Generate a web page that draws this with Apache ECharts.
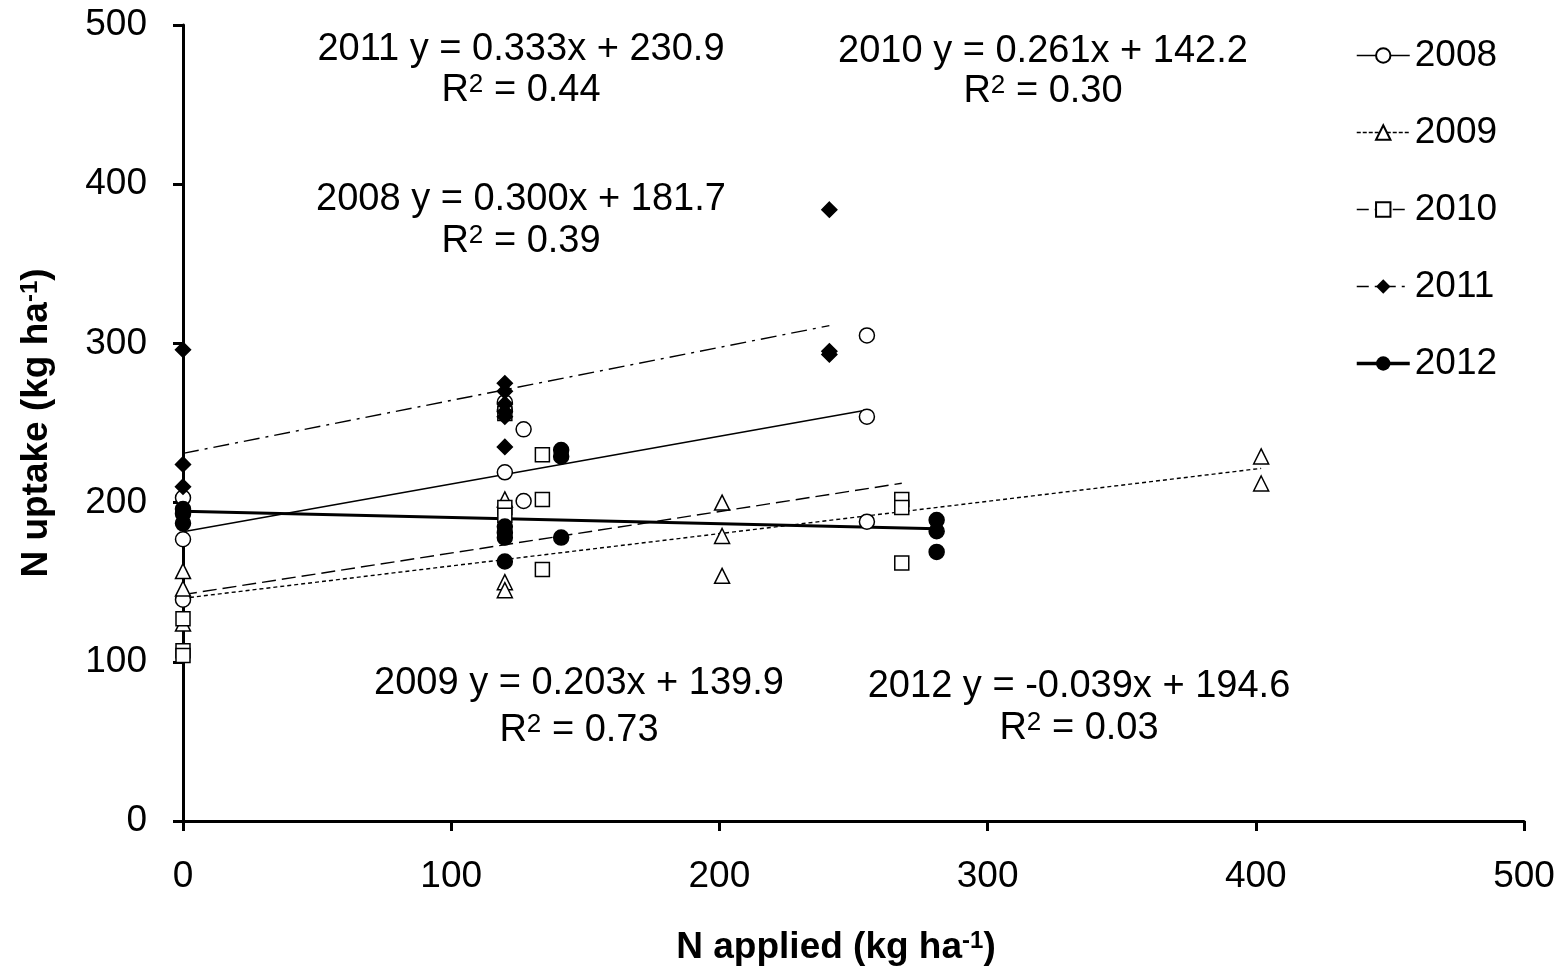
<!DOCTYPE html>
<html>
<head>
<meta charset="utf-8">
<script src="https://cdn.jsdelivr.net/npm/echarts@6/dist/echarts.min.js"></script>
<style>html,body{margin:0;padding:0;background:#fff;}#c{width:1565px;height:971px;}</style>
</head>
<body>
<div id="c"></div>
<script>
// ---- data ----
const years = ['2008', '2009', '2010', '2011', '2012'];

const nApplied2008 = [0, 0, 0, 120, 120, 120, 127, 127, 255, 255, 255];
const nUptake2008  = [203, 177, 139, 263, 258, 219, 246, 201, 305, 254, 188];

const nApplied2009 = [0, 0, 0, 120, 120, 120, 201, 201, 201, 402, 402];
const nUptake2009  = [157, 146, 124, 202, 150, 145, 200, 179, 154, 229, 212];

const nApplied2010 = [0, 0, 0, 120, 120, 120, 134, 134, 134, 268, 268, 268];
const nUptake2010  = [127, 107, 104, 256, 197, 192, 230, 202, 158, 202, 197, 162];

const nApplied2011 = [0, 0, 0, 120, 120, 120, 120, 120, 120, 241, 241, 241];
const nUptake2011  = [296, 224, 210, 275, 270, 262, 257, 254, 235, 384, 295, 293];

const nApplied2012 = [0, 0, 0, 120, 120, 120, 120, 141, 141, 141, 281, 281, 281];
const nUptake2012  = [196, 193, 187, 185, 181, 178, 163, 233, 229, 178, 189, 182, 169];

// regression equations shown on the chart
const slopes     = [0.300, 0.203, 0.261, 0.333, -0.039];
const intercepts = [181.7, 139.9, 142.2, 230.9, 194.6];
const r2Values   = ['0.39', '0.73', '0.30', '0.44', '0.03'];
const trendStart = [0, 0, 0, 0, 0];
const trendEnd   = [255, 402, 268, 241, 281];

const xTicks = [0, 100, 200, 300, 400, 500];
const yTicks = [0, 100, 200, 300, 400, 500];

// ---- styling ----
const xs = [nApplied2008, nApplied2009, nApplied2010, nApplied2011, nApplied2012];
const ys = [nUptake2008, nUptake2009, nUptake2010, nUptake2011, nUptake2012];
const scatterSymbol = ['circle', 'triangle', 'rect', 'diamond', 'circle'];
const scatterFill = ['#fff', '#fff', '#fff', '#000', '#000'];
const scatterSize = [15, 15, 14, 15, 15];
const legendSymbol = ['emptyCircle', 'emptyTriangle', 'emptyRect', 'diamond', 'circle'];
const lineType = ['solid', [4, 3], [14, 6], [16, 6, 3, 6], 'solid'];
const lineWidth = [1.5, 1.4, 1.4, 1.4, 3];
const legendLineType = ['solid', [4, 2], [12, 6], [12, 6, 3, 6], 'solid'];

const FONT = '"Liberation Sans", Arial, sans-serif';

const series = [];
years.forEach((y, i) => {
  series.push({
    name: y,
    type: 'line',
    data: [
      [trendStart[i], intercepts[i] + slopes[i] * trendStart[i]],
      [trendEnd[i], intercepts[i] + slopes[i] * trendEnd[i]]
    ],
    symbol: legendSymbol[i],
    showSymbol: false,
    lineStyle: { color: '#000', width: lineWidth[i], type: lineType[i] },
    itemStyle: { color: '#000' },
    silent: true,
    z: 2
  });
});
years.forEach((y, i) => {
  series.push({
    name: y,
    type: 'scatter',
    data: xs[i].map((x, k) => [x, ys[i][k]]),
    symbol: scatterSymbol[i],
    symbolSize: scatterSize[i],
    itemStyle: { color: scatterFill[i], borderColor: '#000', borderWidth: 1.5, opacity: 1 },
    z: 3
  });
});

const supRich = {
  s: { fontSize: 26, fontFamily: FONT, verticalAlign: 'top', fill: '#000' }
};

function eqLabel(i, cx, cy) {
  const sign = intercepts[i] >= 0 ? '+' : '-';
  const slopeTxt = slopes[i].toFixed(3);
  return [
    {
      type: 'text', x: cx, y: cy[0],
      style: {
        text: years[i] + ' y = ' + slopeTxt + 'x ' + sign + ' ' + Math.abs(intercepts[i]).toFixed(1),
        font: '38px ' + FONT, fill: '#000', align: 'center', verticalAlign: 'middle'
      }
    },
    {
      type: 'text', x: cx, y: cy[1],
      style: {
        text: 'R{s|2} = ' + r2Values[i],
        fontSize: 38, fontFamily: FONT,
        fill: '#000', align: 'center', verticalAlign: 'middle',
        rich: supRich
      }
    }
  ];
}

const graphics = [].concat(
  eqLabel(3, 521, [50, 91]),
  eqLabel(2, 1043, [52, 92]),
  eqLabel(0, 521, [200, 242]),
  eqLabel(1, 579, [684, 731]),
  eqLabel(4, 1079, [687, 729])
);

const titleRich = {
  t: { fontSize: 37, fontWeight: 'bold', fontFamily: FONT, color: '#000' },
  s: { fontSize: 24, fontWeight: 'bold', fontFamily: FONT, color: '#000', verticalAlign: 'top' }
};

const chart = echarts.init(document.getElementById('c'), null, { renderer: 'canvas' });
chart.setOption({
  animation: false,
  backgroundColor: '#fff',
  grid: { left: 183, right: 41, top: 25, bottom: 149, containLabel: false },
  xAxis: {
    type: 'value', min: xTicks[0], max: xTicks[xTicks.length - 1], interval: 100,
    splitLine: { show: false },
    axisLine: { show: true, onZero: false, lineStyle: { color: '#000', width: 3 } },
    axisTick: { show: true, inside: false, length: 10, lineStyle: { color: '#000', width: 3 } },
    axisLabel: { fontSize: 37, fontFamily: FONT, color: '#000', margin: 37 },
    name: '{t|N applied (kg ha}{s|-1}{t|)}',
    nameLocation: 'middle', nameGap: 108,
    nameTextStyle: { rich: titleRich, padding: [0, 35, 0, 0] }
  },
  yAxis: {
    type: 'value', min: yTicks[0], max: yTicks[yTicks.length - 1], interval: 100,
    splitLine: { show: false },
    axisLine: { show: true, onZero: false, lineStyle: { color: '#000', width: 3 } },
    axisTick: { show: true, inside: false, length: 10, lineStyle: { color: '#000', width: 3 } },
    axisLabel: { fontSize: 37, fontFamily: FONT, color: '#000', margin: 36 },
    name: '{t|N uptake (kg ha}{s|-1}{t|)}',
    nameLocation: 'middle', nameGap: 128,
    nameTextStyle: { rich: titleRich }
  },
  legend: {
    data: years.map((y, i) => ({
      name: y,
      lineStyle: { width: i === 4 ? 3.5 : 1.5, type: legendLineType[i], color: '#000' }
    })),
    orient: 'vertical',
    left: 1350, top: 32,
    itemWidth: 53, itemHeight: 18,
    itemGap: 40,
    selectedMode: false,
    textStyle: { fontSize: 37, fontFamily: FONT, color: '#000', lineHeight: 36 }
  },
  graphic: graphics,
  series: series
});
</script>
</body>
</html>
